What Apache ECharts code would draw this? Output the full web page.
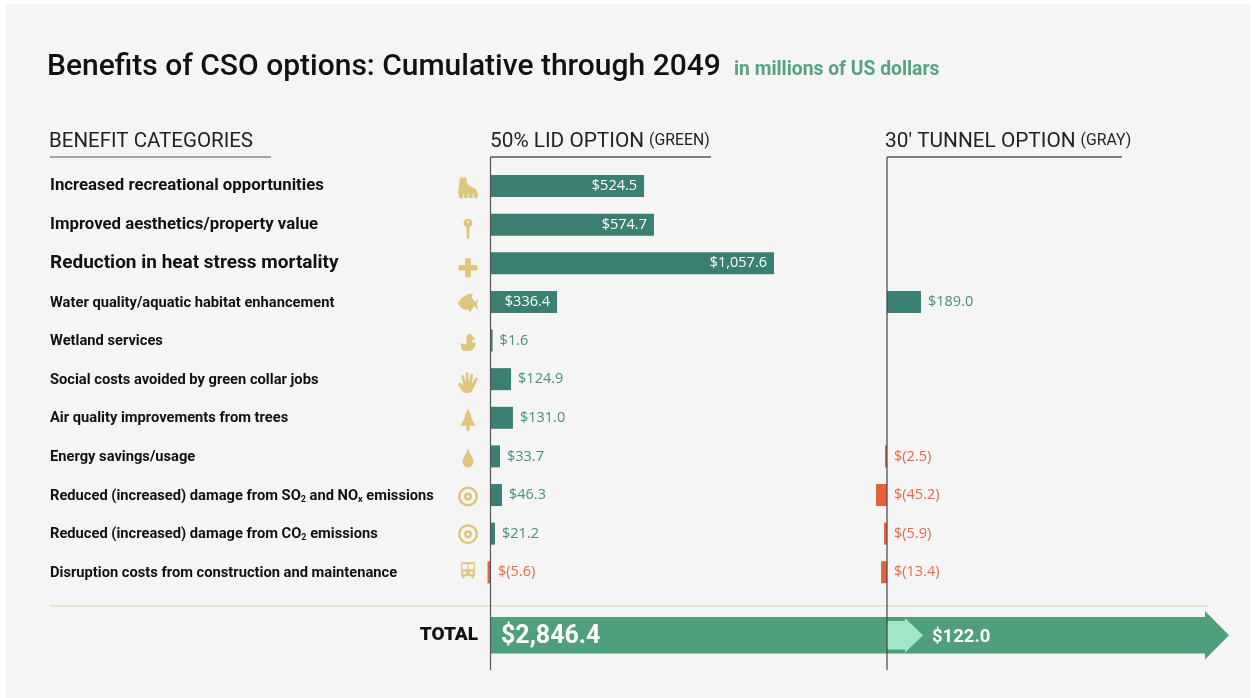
<!DOCTYPE html>
<html><head><meta charset="utf-8">
<style>html,body{margin:0;padding:0;background:#fff}#c{width:1255px;height:698px}</style>
<script src="https://cdn.jsdelivr.net/npm/echarts@6/dist/echarts.min.js"></script>
</head><body><div id="c"></div>
<script>
const categories = [
  'Increased recreational opportunities',
  'Improved aesthetics/property value',
  'Reduction in heat stress mortality',
  'Water quality/aquatic habitat enhancement',
  'Wetland services',
  'Social costs avoided by green collar jobs',
  'Air quality improvements from trees',
  'Energy savings/usage',
  'Reduced (increased) damage from SO₂ and NOₓ emissions',
  'Reduced (increased) damage from CO₂ emissions',
  'Disruption costs from construction and maintenance'
];
// Printed figures
const lidPrinted = [524.5, 574.7, 1057.6, 336.4, 1.6, 124.9, 131.0, 33.7, 46.3, 21.2, -5.6];
const tunnelPrinted = [null, null, null, 189.0, null, null, null, -2.5, -45.2, -5.9, -13.4];
// Bar lengths as drawn in the picture (the source graphic is not strictly to scale),
// expressed in units of the heat-stress bar
const lidDrawn = [572, 609, 1057.6, 247, 6, 75, 82, 33.6, 41, 15, -13];
const tunnelDrawn = [null, null, null, 127, null, null, null, -7.5, -41, -11, -22];
const totalLid = 2846.4;
const totalTunnel = 122.0;
const totalLabel = ['TOTAL'];

const iconPaths = [
  'M2 0L8 0L10 7L18 11L20 15L20 16L1 16L0 15L1 8ZM3 15.5a2.3 2.3 0 1 1 -.01 0ZM8 15.5a2.3 2.3 0 1 1 -.01 0ZM13 15.5a2.3 2.3 0 1 1 -.01 0ZM18 15.5a2.3 2.3 0 1 1 -.01 0Z',
  'M4.5 0A4.5 4.5 0 1 1 4.49 0ZM4.5 2.5A1.2 1.2 0 1 0 4.51 2.5ZM2.9 8H6.1L5.8 21H3.2Z',
  'M7 0h6v7h7v6h-7v7h-6v-7h-7v-6h7z',
  'M0 10C2 5 8 0 15 0L13.5 4C15 5.5 16 7 17 8.5L20 5L19 11L20 17L16.5 12.5C14 15.5 13 17 12 19L10 16C5 17 2 14 0 10Z',
  'M9 0A3.5 3.5 0 0 1 12.5 3L15 4.5L12 6C11.5 7 12 8 13 8L15 7.5C15.5 12 13 16 8 16H4C1 16 0 12 0 8C2 10 5 10 7 8.5C5 6 5 0 9 0Z',
  'M6 20C3 18 1 15 0 12L2 11L5 14L3 5L5 4.5L7 11L7 2L9.3 2L9.8 11L11.5 3L13.5 3.5L12.5 12L16 6.5L18 7.5L14 16C13 19 10 21 6 20Z',
  'M7.5 0L11 7L10 7L15 17L9 17L9 22L6 22L6 17L0 17L5 7L4 7Z',
  'M5.5 0C7 5 11 9 11 13A5.5 5.5 0 0 1 0 13C0 9 4 5 5.5 0Z',
  'M10 0A10 10 0 1 1 9.99 0ZM10 2.5A7.5 7.5 0 1 0 10.01 2.5ZM10 6A4 4 0 1 1 9.99 6ZM10 8.5A1.5 1.5 0 1 0 10.01 8.5Z',
  'M10 0A10 10 0 1 1 9.99 0ZM10 2.5A7.5 7.5 0 1 0 10.01 2.5ZM10 6A4 4 0 1 1 9.99 6ZM10 8.5A1.5 1.5 0 1 0 10.01 8.5Z',
  'M1 0H13V14H12V16H10V14H4V16H2V14H1ZM2 2V7H6.5V2ZM7.5 2V7H12V2ZM3 9V12H5V9ZM9 9V12H11V9Z'
];
const iconSizes = [[20,21],[9,20],[19,19],[20,19],[15,17],[20,21],[15,22],[11,19],[20,20],[20,20],[14,16]];
const iconOffsets = [2,4,4.5,1,2,3.5,2,1.5,1.5,.5,-2];

const TEAL='#3b7f73', ORANGE='#e8603c', LBL_GREEN='#4a8f80', LBL_ORANGE='#e96a45';
const GOLD='#dfc67f', TOTAL_GREEN='#4f9f7d', LIGHT='#a3e6c7';
const VALUE_FONT='"Open Sans"', CAT_FONT='Roboto', HEAD_FONT='Roboto';
const scale = 283/1057.6, pad = 100, rowsTop = 166.7, rowsH = 424.9;
const LID_X = 491, TUN_X = 887;

function money(v){
  const s = Math.abs(v).toLocaleString('en-US',{minimumFractionDigits:1,maximumFractionDigits:1});
  return v<0 ? '$('+s+')' : '$'+s;
}
function barData(drawn, printed){
  return drawn.map((d,i)=>{
    if(d===null) return {value:null};
    const neg=d<0, inside=d>200 && printed[i]>300;
    return {value:d, itemStyle:{color:neg?ORANGE:TEAL},
      label:{position:inside?'insideRight':'right',distance:7,
        color:inside?'#fff':(neg?LBL_ORANGE:LBL_GREEN)}};
  });
}
function barSeries(grid, drawn, printed){
  return {type:'bar',xAxisIndex:grid,yAxisIndex:grid,barWidth:22,data:barData(drawn,printed),clip:false,
    label:{show:true,fontFamily:VALUE_FONT,fontSize:14.5,fontWeight:400,
      formatter:p=>money(printed[p.dataIndex])}};
}
function catLabel(v,i){
  const st = i<2?'a':(i===2?'b':'c');
  return v.split(/([₂ₓ])/).map(t=> t==='₂'?'{s|2}':t==='ₓ'?'{s|x}':(t?`{${st}|${t}}`:'')).join('');
}
function arrow(params, api, o){
  const cs=params.coordSys, v=api.value(0), x0=cs.x, xe=api.coord([v,0])[0];
  const t=cs.y+o.inset, b=cs.y+cs.height-o.inset, ht=cs.y-o.over, hb=cs.y+cs.height+o.over, m=cs.y+cs.height/2;
  const hx=xe-o.head;
  return {type:'group',children:[
    {type:'polygon',shape:{points:[[x0,t],[hx,t],[hx,ht],[xe,m],[hx,hb],[hx,b],[x0,b]]},style:{fill:o.fill}},
    {type:'text',style:{text:money(v),x:o.lblX(x0,xe),y:m+o.dy,fill:'#fff',font:o.font,textAlign:'left',textVerticalAlign:'middle'}}
  ]};
}
const hideX={show:false};
const headRich={a:{fontFamily:HEAD_FONT,fontSize:20.8,fontWeight:400,color:'#222'},b:{fontFamily:HEAD_FONT,fontSize:15.8,fontWeight:400,color:'#222'}};
const chart=echarts.init(document.getElementById('c'));
chart.setOption({
  animation:false,
  title:[
    {left:47,top:52,padding:0,text:'Benefits of CSO options: Cumulative through 2049',textStyle:{fontFamily:HEAD_FONT,fontSize:30,fontWeight:500,color:'#111'}},
    {left:734,top:61,padding:0,text:'in millions of US dollars',textStyle:{fontFamily:CAT_FONT,fontSize:19.3,fontWeight:700,color:'#57a283'}},
    {left:49,top:131,padding:0,text:'BENEFIT CATEGORIES',textStyle:{fontFamily:HEAD_FONT,fontSize:20.5,fontWeight:400,color:'#222'}},
    {left:490,top:131,padding:0,text:'{a|50% LID OPTION} {b|(GREEN)}',textStyle:{rich:headRich}},
    {left:885,top:131,padding:0,text:'{a|30′ TUNNEL OPTION} {b|(GRAY)}',textStyle:{rich:headRich}}
  ],
  graphic:[
    {type:'rect',z:-10,shape:{x:6,y:4,width:1244,height:694},style:{fill:'#f5f5f5'}},
    {type:'line',z:1,shape:{x1:50,y1:606,x2:1209,y2:606},style:{stroke:'#e8e4d8',lineWidth:2}},
    {type:'line',z:100,shape:{x1:50,y1:157,x2:271,y2:157},style:{stroke:'#888',lineWidth:1.5}},
    {type:'line',z:100,shape:{x1:490.5,y1:157,x2:711,y2:157},style:{stroke:'#555',lineWidth:1.5}},
    {type:'line',z:100,shape:{x1:887,y1:157,x2:1122,y2:157},style:{stroke:'#555',lineWidth:1.5}},
    {type:'line',z:100,shape:{x1:490.5,y1:157,x2:490.5,y2:670},style:{stroke:'#555',lineWidth:1.2}},
    {type:'line',z:100,shape:{x1:887,y1:157,x2:887,y2:670},style:{stroke:'#444',lineWidth:1.2}}
  ],
  grid:[
    {left:LID_X-pad*scale,top:rowsTop,width:1200*scale,height:rowsH},
    {left:TUN_X-pad*scale,top:rowsTop,width:1200*scale,height:rowsH},
    {left:455,top:rowsTop,width:26,height:rowsH},
    {left:LID_X,top:617,width:738,height:36.5},
    {left:TUN_X,top:617,width:36,height:36.5}
  ],
  xAxis:[
    {gridIndex:0,type:'value',min:-pad,max:1100,...hideX},
    {gridIndex:1,type:'value',min:-pad,max:1100,...hideX},
    {gridIndex:2,type:'value',min:-1,max:1,...hideX},
    {gridIndex:3,type:'value',min:0,max:totalLid,...hideX},
    {gridIndex:4,type:'value',min:0,max:totalTunnel,...hideX}
  ],
  yAxis:[
    {gridIndex:0,type:'category',inverse:true,data:categories,axisLine:{show:false},axisTick:{show:false},
      axisLabel:{interval:0,align:'left',margin:LID_X-pad*scale-50,formatter:catLabel,rich:{
        a:{fontFamily:CAT_FONT,fontWeight:700,fontSize:16.8,color:'#111'},
        b:{fontFamily:CAT_FONT,fontWeight:700,fontSize:19,color:'#111'},
        c:{fontFamily:CAT_FONT,fontWeight:700,fontSize:14.7,color:'#111',padding:[2,0,0,0]},
        s:{fontFamily:CAT_FONT,fontWeight:700,fontSize:9,color:'#111',padding:[9,0,0,0]}
      }}},
    {gridIndex:1,type:'category',inverse:true,data:categories,show:false},
    {gridIndex:2,type:'category',inverse:true,data:categories,show:false},
    {gridIndex:3,type:'category',data:totalLabel,axisLine:{show:false},axisTick:{show:false},
      axisLabel:{margin:13,fontFamily:CAT_FONT,fontWeight:900,fontSize:19,color:'#111',padding:[3,0,0,0]}},
    {gridIndex:4,type:'category',data:totalLabel,show:false}
  ],
  series:[
    barSeries(0,lidDrawn,lidPrinted),
    barSeries(1,tunnelDrawn,tunnelPrinted),
    {type:'scatter',xAxisIndex:2,yAxisIndex:2,
      data:categories.map((c,i)=>({value:[0,i],symbol:'path://'+iconPaths[i],symbolSize:iconSizes[i],symbolOffset:[0,iconOffsets[i]]})),
      itemStyle:{color:GOLD,opacity:1}},
    {type:'custom',xAxisIndex:3,yAxisIndex:3,z:3,clip:false,data:[[totalLid,0]],
      renderItem:(p,a)=>arrow(p,a,{inset:0,over:6,head:24,fill:TOTAL_GREEN,font:'700 25px Roboto',dy:1.5,lblX:x0=>x0+10})},
    {type:'custom',xAxisIndex:4,yAxisIndex:4,z:4,clip:false,data:[[totalTunnel,0]],
      renderItem:(p,a)=>arrow(p,a,{inset:4,over:-1,head:18,fill:LIGHT,font:'700 18.5px Roboto',dy:2,lblX:(x0,xe)=>xe+9})}
  ]
});
</script></body></html>
